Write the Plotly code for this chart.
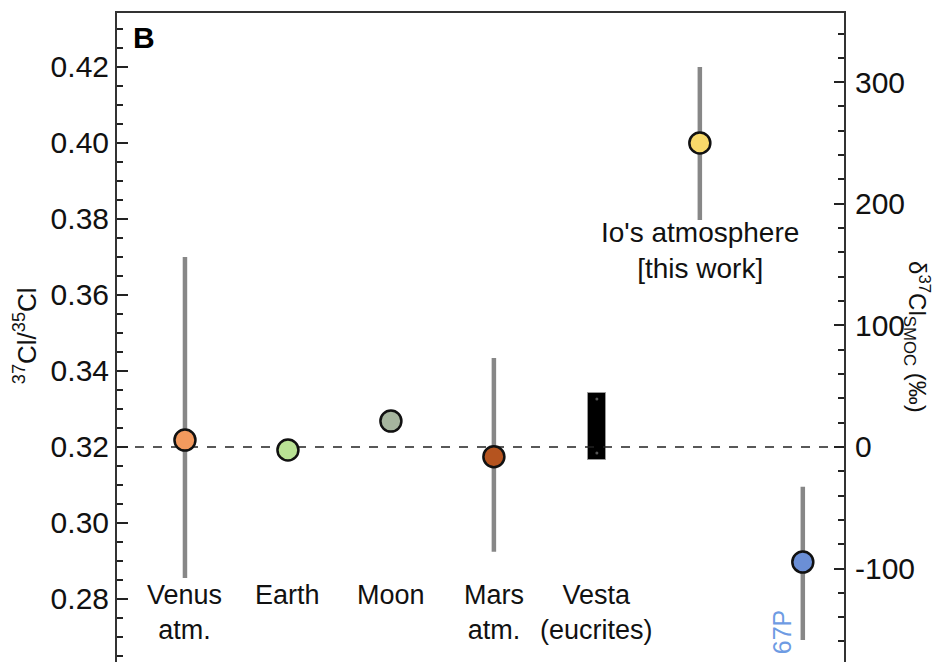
import plotly.graph_objects as go

# ---- data ----
categories = ["Venus", "Earth", "Moon", "Mars", "Vesta", "Io", "67P"]
label_text = ["Venus<br>atm.", "Earth", "Moon", "Mars<br>atm.", "Vesta<br>(eucrites)"]

point_bodies = ["Venus", "Earth", "Moon", "Mars", "Io", "67P"]
point_ratio = [0.3218, 0.3192, 0.3268, 0.3174, 0.400, 0.2897]
err_plus = [0.0482, 0.0, 0.0, 0.0260, 0.020, 0.0198]
err_minus = [0.0363, 0.0, 0.0, 0.0250, 0.0203, 0.0205]
point_colors = ["#F39A5E", "#B9E294", "#A6B59E", "#B5541F", "#F8D96A", "#6B8FD6"]

vesta_low = 0.3166
vesta_high = 0.3342
vesta_dots = [0.3326, 0.3184]

ref_ratio = 0.32          # SMOC reference, delta = 0
y_range = [0.2634, 0.4342]
left_ticks = [0.28, 0.30, 0.32, 0.34, 0.36, 0.38, 0.40, 0.42]
right_ticks = [-100, 0, 100, 200, 300]
right_ticktext = ["-100", "0", "100", "200", "300"]

FONT = "Liberation Sans, Arial, Helvetica, sans-serif"
INK = "#111111"

fig = go.Figure()

# reference dashed line
fig.add_trace(go.Scatter(
    x=[-0.66, 6.40], y=[ref_ratio, ref_ratio], mode="lines",
    line=dict(color="#222222", width=1.5, dash="dash"),
    hoverinfo="skip", showlegend=False))

# Vesta range box
fig.add_trace(go.Bar(
    x=[4], y=[vesta_high - vesta_low], base=[vesta_low], width=0.17,
    marker=dict(color="black", line=dict(color="#999999", width=1)),
    showlegend=False, hoverinfo="skip"))
fig.add_trace(go.Scatter(
    x=[4] * len(vesta_dots), y=vesta_dots, mode="markers",
    marker=dict(color="#555555", size=3), showlegend=False, hoverinfo="skip"))

# points with error bars
xpos = [categories.index(b) for b in point_bodies]
fig.add_trace(go.Scatter(
    x=xpos, y=point_ratio, mode="markers",
    error_y=dict(type="data", symmetric=False, array=err_plus, arrayminus=err_minus,
                 color="#878787", thickness=4.5, width=0),
    marker=dict(color=point_colors, size=21, line=dict(color="#111111", width=2.5)),
    showlegend=False))

# invisible trace to activate right axis
fig.add_trace(go.Scatter(x=[0], y=[0], yaxis="y2", mode="markers",
                         marker=dict(opacity=0), showlegend=False, hoverinfo="skip"))

# category labels
for i, txt in enumerate(label_text):
    fig.add_annotation(x=i, y=0.2856, xref="x", yref="y", text=txt, showarrow=False,
                       yanchor="top", xanchor="center",
                       font=dict(family=FONT, size=27, color=INK))

fig.add_annotation(x=5, y=0.3810, xref="x", yref="y",
                   text="Io's atmosphere<br>[this work]", showarrow=False,
                   yanchor="top", xanchor="center",
                   font=dict(family=FONT, size=28, color=INK))

fig.add_annotation(x=5.8, y=0.2713, xref="x", yref="y", text="67P", showarrow=False,
                   textangle=-90, xanchor="center", yanchor="middle",
                   font=dict(family=FONT, size=25, color="#6E9BE3"))

fig.add_annotation(x=0.037, y=0.9615, xref="paper", yref="paper", text="<b>B</b>",
                   showarrow=False, xanchor="center", yanchor="middle",
                   font=dict(family=FONT, size=30, color="black"))

# axis titles
fig.add_annotation(x=-0.1265, y=0.502, xref="paper", yref="paper",
                   text="<sup>37</sup>Cl/<sup>35</sup>Cl", showarrow=False, textangle=-90,
                   xanchor="center", yanchor="middle",
                   font=dict(family=FONT, size=26, color=INK))
fig.add_annotation(x=1.101, y=0.50, xref="paper", yref="paper",
                   text="δ<sup>37</sup>Cl<sub>SMOC</sub> (‰)", showarrow=False, textangle=90,
                   xanchor="center", yanchor="middle",
                   font=dict(family=FONT, size=24, color=INK))

y2_range = [(v / ref_ratio - 1) * 1000 for v in y_range]

fig.update_layout(
    width=940, height=662,
    margin=dict(l=109, r=104, t=5, b=8, autoexpand=False),
    paper_bgcolor="white", plot_bgcolor="white",
    font=dict(family=FONT, color=INK),
    xaxis=dict(range=[-0.66, 6.40], side="top", showline=True, linecolor="#333333",
               linewidth=2, showticklabels=False, ticks="", showgrid=False, zeroline=False),
    yaxis=dict(range=y_range, tickvals=left_ticks, tickformat=".2f",
               ticks="inside", ticklen=11, tickwidth=1.5, tickcolor="#222222",
               minor=dict(dtick=0.005, ticks="inside", ticklen=6, tickwidth=1.5,
                          tickcolor="#222222", showgrid=False),
               showline=True, linecolor="#333333", linewidth=2,
               showgrid=False, zeroline=False, ticklabelstandoff=0,
               tickfont=dict(family=FONT, size=30, color=INK)),
    yaxis2=dict(range=y2_range, overlaying="y", side="right", tickvals=right_ticks,
                ticktext=right_ticktext,
                ticks="inside", ticklen=10, tickwidth=1.5, tickcolor="#222222",
                minor=dict(dtick=20, ticks="inside", ticklen=6, tickwidth=1.5,
                           tickcolor="#222222", showgrid=False),
                showline=True, linecolor="#333333", linewidth=2,
                showgrid=False, zeroline=False, ticklabelstandoff=3,
                tickfont=dict(family=FONT, size=30, color=INK)),
    bargap=0,
)

fig.write_html("out.html")
